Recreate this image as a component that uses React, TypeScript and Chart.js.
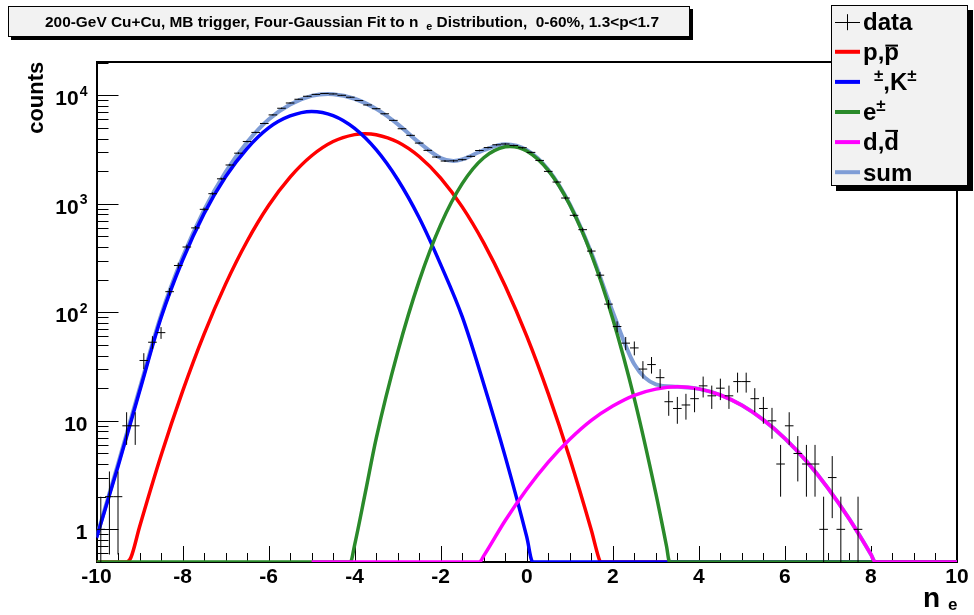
import React, { useEffect, useRef } from 'react';
import { Chart, registerables } from 'chart.js';

Chart.register(...registerables);

const FONT = "'Liberation Sans', Arial, Helvetica, sans-serif";

// ---------- fitted curves ----------
const protonX = [-10, -9.3, -9.2, -9, -8.5, -8, -7.5, -7, -6.5, -6, -5.5, -5, -4.5, -4, -3.76, -3.5, -3, -2.5, -2, -1.5, -1, -0.5, 0, 0.5, 1, 1.5, 1.7, 1.72, 10];
const protonY = [0.5, 0.5, 0.55, 1.05, 4.79, 18.7, 63.1, 182, 452, 964, 1762, 2773, 3750, 4345, 4426, 4335, 3715, 2729, 1726, 938, 437, 175, 60.3, 17.8, 4.52, 0.986, 0.51, 0.5, 0.5];

const pionX = [-10, -9.5, -9, -8.5, -8, -7.5, -7, -6.5, -6, -5.5, -5, -4.5, -4, -3.5, -3, -2.5, -2, -1.5, -1, -0.5, 0, 0.14, 10];
const pionY = [0.832, 3.8, 18.6, 89.1, 302, 813, 1778, 3236, 5012, 6457, 7112, 6501, 4955, 3155, 1675, 743, 275, 91.2, 21.9, 4.68, 0.851, 0.5, 0.5];

const electronX = [-10, -4.1, -4, -3.75, -3.5, -3, -2.5, -2, -1.5, -1, -0.5, -0.39, 0, 0.5, 1, 1.5, 2, 2.5, 3, 3.25, 3.32, 10];
const electronY = [0.5, 0.5, 0.72, 2.2, 6.87, 43.0, 195, 643, 1535, 2661, 3357, 3381, 3069, 2037, 980, 343, 86.9, 16.0, 2.14, 0.695, 0.5, 0.5];

const deuteronX = [-5, -1.1, -1, -0.5, 0, 0.5, 1, 1.5, 2, 2.5, 3, 3.5, 4, 4.5, 5, 5.5, 6, 6.5, 7, 7.5, 8, 8.1, 10];
const deuteronY = [0.5, 0.5, 0.569, 1.205, 2.34, 4.16, 6.76, 10.1, 13.7, 17.2, 19.6, 20.6, 19.7, 17.3, 13.9, 10.2, 6.88, 4.25, 2.4, 1.24, 0.587, 0.5, 0.5];

const sumX = [-10, -9.5, -9, -8.5, -8, -7.5, -7, -6.5, -6, -5.5, -5, -4.62, -4.5, -4, -3.5, -3, -2.5, -2, -1.7, -1.5, -1, -0.5, 0, 0.5, 1, 1.5, 2, 2.5, 3, 3.5, 4, 4.5, 5, 5.5, 6, 6.5, 7, 7.5, 8, 8.1, 10];
const sumY = [0.85, 4.0, 19.7, 93.9, 321, 876, 1960, 3688, 5976, 8219, 9885, 10280, 10251, 9301, 7497, 5433, 3667, 2644, 2483, 2564, 3120, 3538, 3133, 2059, 991, 354, 100.6, 33.2, 21.7, 20.6, 19.7, 17.3, 13.9, 10.2, 6.88, 4.25, 2.4, 1.24, 0.587, 0.5, 0.5];

// ---------- histogram (bin centres and counts) ----------
const binWidth = 0.2;
const dataX = [-9.9, -9.7, -9.5, -9.3, -9.1, -8.9, -8.7, -8.5, -8.3, -8.1, -7.9, -7.7, -7.5, -7.3, -7.1, -6.9, -6.7, -6.5, -6.3, -6.1, -5.9, -5.7, -5.5, -5.3, -5.1, -4.9, -4.7, -4.5, -4.3, -4.1, -3.9, -3.7, -3.5, -3.3, -3.1, -2.9, -2.7, -2.5, -2.3, -2.1, -1.9, -1.7, -1.5, -1.3, -1.1, -0.9, -0.7, -0.5, -0.3, -0.1, 0.1, 0.3, 0.5, 0.7, 0.9, 1.1, 1.3, 1.5, 1.7, 1.9, 2.1, 2.3, 2.5, 2.7, 2.9, 3.1, 3.3, 3.5, 3.7, 3.9, 4.1, 4.3, 4.5, 4.7, 4.9, 5.1, 5.3, 5.5, 5.7, 5.9, 6.1, 6.3, 6.5, 6.7, 6.9, 7.1, 7.3, 7.7];
const dataCounts = [1, 2, 2, 9, 9, 36, 53, 65, 155, 270, 400, 600, 890, 1240, 1700, 2280, 2930, 3750, 4550, 5500, 6600, 7600, 8500, 9200, 9800, 10200, 10400, 10300, 10000, 9600, 8950, 8150, 7530, 6760, 5875, 4920, 4275, 3630, 3110, 2700, 2480, 2490, 2553, 2737, 3100, 3300, 3500, 3560, 3450, 3290, 2980, 2512, 1990, 1588, 1131, 783, 578, 367, 220, 119, 74, 52, 47, 30, 33, 25, 15, 13, 14, 16, 21, 17, 20, 17, 23, 23, 16, 13, 10, 4, 9, 5, 4, 4, 1, 3, 1, 1];

// ---------- axes ----------
const xTickValues = [-10, -8, -6, -4, -2, 0, 2, 4, 6, 8, 10];
const yTickValues = [1, 10, 100, 1000, 10000];
const yTickBase = ['1', '10', '10', '10', '10'];
const yTickExp = ['', '', '2', '3', '4'];

const titleParts = ['200-GeV Cu+Cu, MB trigger, Four-Gaussian Fit to n', 'e', ' Distribution,  0-60%, 1.3<p<1.7'];

const COLORS = {
  proton: '#ff0000',
  pion: '#0000ff',
  electron: '#2a8a2a',
  deuteron: '#ff00ff',
  sum: '#7f9dd6',
};

const pts = (xs: number[], ys: number[]) => xs.map((x, i) => ({ x, y: ys[i] }));

function buildErrorBars() {
  const out: any[] = [];
  dataX.forEach((x, i) => {
    const n = dataCounts[i];
    const e = Math.sqrt(n);
    out.push({ x, y: Math.max(n - e, 0.05) }, { x, y: n + e }, { x, y: null });
    out.push({ x: x - binWidth / 2, y: n }, { x: x + binWidth / 2, y: n }, { x, y: null });
  });
  return out;
}

const framePlugin = {
  id: 'rootFrame',
  beforeDatasetsDraw(chart: any) {
    const { ctx, chartArea, scales } = chart;
    const { left, right, top, bottom } = chartArea;
    const xs = scales.x;
    const ys = scales.y;
    ctx.save();
    ctx.strokeStyle = '#000';
    ctx.lineWidth = 1;
    ctx.beginPath();
    for (let v = xs.min; v <= xs.max + 1e-9; v += 0.5) {
      const px = Math.round(xs.getPixelForValue(v)) + 0.5;
      const major = Math.abs(v / 2 - Math.round(v / 2)) < 1e-9;
      ctx.moveTo(px, bottom);
      ctx.lineTo(px, bottom - (major ? 16 : 9));
    }
    const d0 = Math.floor(Math.log10(ys.min));
    const d1 = Math.ceil(Math.log10(ys.max));
    for (let d = d0; d <= d1; d++) {
      for (let m = 1; m <= 9; m++) {
        const v = m * Math.pow(10, d);
        if (v < ys.min || v > ys.max) continue;
        const py = Math.round(ys.getPixelForValue(v)) + 0.5;
        ctx.moveTo(left, py);
        ctx.lineTo(left + (m === 1 ? 22 : 12), py);
      }
    }
    ctx.stroke();
    ctx.lineWidth = 2;
    ctx.strokeRect(Math.round(left), Math.round(top), Math.round(right) - Math.round(left), Math.round(bottom) - Math.round(top));
    ctx.restore();
  },
};

function drawSegments(ctx: any, segs: any[], x: number, baseline: number) {
  let cx = x;
  for (const s of segs) {
    if (s.gap) {
      cx += s.gap;
      continue;
    }
    const size = s.sup ? 17 : 24;
    ctx.font = `bold ${size}px ${FONT}`;
    const yb = baseline - (s.sup ? 9.5 : 0);
    ctx.fillText(s.t, cx, yb);
    const w = ctx.measureText(s.t).width;
    if (s.over) ctx.fillRect(cx + 1, baseline - s.over, w - 2, 2);
    cx += w;
  }
}

function drawBox(ctx: any, x: number, y: number, w: number, h: number, sh: number) {
  ctx.fillStyle = '#000';
  ctx.fillRect(x + sh, y + sh, w, h);
  ctx.fillStyle = '#f2f2f2';
  ctx.fillRect(x, y, w, h);
  ctx.strokeStyle = '#000';
  ctx.lineWidth = 1;
  ctx.strokeRect(x + 0.5, y + 0.5, w - 1, h - 1);
}

const decorPlugin = {
  id: 'rootDecor',
  afterDraw(chart: any) {
    const { ctx, chartArea, scales } = chart;
    const ys = scales.y;
    ctx.save();
    ctx.textAlign = 'left';
    ctx.textBaseline = 'alphabetic';

    // title box
    drawBox(ctx, 8, 6, 682, 31, 3);
    ctx.fillStyle = '#000';
    const tSize = 15.4;
    ctx.font = `bold ${tSize}px ${FONT}`;
    const w0 = ctx.measureText(titleParts[0]).width;
    const gap = 8;
    ctx.font = `bold ${tSize * 0.7}px ${FONT}`;
    const w1 = ctx.measureText(titleParts[1]).width;
    ctx.font = `bold ${tSize}px ${FONT}`;
    const w2 = ctx.measureText(titleParts[2]).width;
    const total = w0 + gap + w1 + w2;
    let tx = 352 - total / 2;
    const tb = 27;
    ctx.fillText(titleParts[0], tx, tb);
    tx += w0 + gap;
    ctx.font = `bold ${tSize * 0.7}px ${FONT}`;
    ctx.fillText(titleParts[1], tx, tb + 3);
    tx += w1;
    ctx.font = `bold ${tSize}px ${FONT}`;
    ctx.fillText(titleParts[2], tx, tb);

    // legend
    drawBox(ctx, 831, 5, 137, 181, 5);
    const rows = [
      { kind: 'data', segs: [{ t: 'data' }] },
      { kind: 'line', color: COLORS.proton, segs: [{ t: 'p,' }, { t: 'p', over: 15.5 }] },
      { kind: 'line', color: COLORS.pion, segs: [{ gap: 11 }, { t: '\u00b1', sup: true }, { t: ',K' }, { t: '\u00b1', sup: true }] },
      { kind: 'line', color: COLORS.electron, segs: [{ t: 'e' }, { t: '\u00b1', sup: true }] },
      { kind: 'line', color: COLORS.deuteron, segs: [{ t: 'd,' }, { t: 'd', over: 20.5 }] },
      { kind: 'line', color: COLORS.sum, segs: [{ t: 'sum' }] },
    ];
    rows.forEach((r: any, i: number) => {
      const cy = 21.7 + 30.1 * i;
      if (r.kind === 'data') {
        ctx.strokeStyle = '#000';
        ctx.lineWidth = 1;
        ctx.beginPath();
        ctx.moveTo(835, Math.round(cy) + 0.5);
        ctx.lineTo(860, Math.round(cy) + 0.5);
        ctx.moveTo(847.5, cy - 7.5);
        ctx.lineTo(847.5, cy + 8.5);
        ctx.stroke();
      } else {
        ctx.strokeStyle = r.color;
        ctx.lineWidth = 4;
        ctx.beginPath();
        ctx.moveTo(835, cy);
        ctx.lineTo(860, cy);
        ctx.stroke();
      }
      ctx.fillStyle = '#000';
      drawSegments(ctx, r.segs, 863, cy + 8.3);
    });

    // y tick labels (decades)
    ctx.fillStyle = '#000';
    yTickValues.forEach((v, i) => {
      const py = ys.getPixelForValue(v);
      const rightEdge = chartArea.left - 9;
      ctx.font = `bold 21px ${FONT}`;
      const wb = ctx.measureText(yTickBase[i]).width;
      ctx.font = `bold 14px ${FONT}`;
      const we = yTickExp[i] ? ctx.measureText(yTickExp[i]).width + 1 : 0;
      ctx.font = `bold 21px ${FONT}`;
      ctx.fillText(yTickBase[i], rightEdge - we - wb, py + 9.8);
      if (yTickExp[i]) {
        ctx.font = `bold 14px ${FONT}`;
        ctx.fillText(yTickExp[i], rightEdge - we + 1, py + 0.5);
      }
    });

    // y axis title
    ctx.save();
    ctx.translate(42.7, 61.7);
    ctx.rotate(-Math.PI / 2);
    ctx.textAlign = 'right';
    ctx.font = `bold 22px ${FONT}`;
    ctx.fillText('counts', 0, 0);
    ctx.restore();

    // x axis title
    ctx.textAlign = 'left';
    ctx.font = `bold 28px ${FONT}`;
    ctx.fillText('n', 923, 607);
    ctx.font = `bold 17px ${FONT}`;
    ctx.fillText('e', 948, 610);
    ctx.restore();
  },
};

export default function App() {
  const ref = useRef<HTMLCanvasElement | null>(null);
  useEffect(() => {
    document.body.style.margin = '0';
    const canvas = ref.current;
    if (!canvas) return;
    const lineDs = (label: string, xs: number[], ys: number[], color: string, order: number, width = 3.5) => ({
      label,
      data: pts(xs, ys),
      borderColor: color,
      backgroundColor: color,
      borderWidth: width,
      pointRadius: 0,
      fill: false,
      cubicInterpolationMode: 'monotone',
      order,
    });
    const chart = new Chart(canvas, {
      type: 'line',
      data: {
        datasets: [
          {
            label: 'data',
            data: buildErrorBars(),
            borderColor: '#000',
            borderWidth: 1,
            pointRadius: 0,
            spanGaps: false,
            fill: false,
            tension: 0,
            order: 0,
          } as any,
          lineDs('d,dbar', deuteronX, deuteronY, COLORS.deuteron, 1),
          lineDs('e', electronX, electronY, COLORS.electron, 2),
          lineDs('pi,K', pionX, pionY, COLORS.pion, 3),
          lineDs('p,pbar', protonX, protonY, COLORS.proton, 4),
          lineDs('sum', sumX, sumY, COLORS.sum, 5, 4),
        ],
      },
      options: {
        animation: false,
        responsive: false,
        maintainAspectRatio: false,
        events: [],
        layout: { padding: { top: 61.5, right: 17, left: 0, bottom: 0 } },
        plugins: {
          legend: { display: false },
          title: { display: false },
          tooltip: { enabled: false },
        },
        scales: {
          x: {
            type: 'linear',
            min: -10,
            max: 10,
            grid: { display: false, drawTicks: false },
            border: { display: false },
            ticks: {
              color: '#000',
              font: { family: FONT, size: 21, weight: 'bold' },
              padding: 3,
              maxRotation: 0,
              autoSkip: false,
              callback: (v: any) => String(v),
            },
            afterBuildTicks: (s: any) => {
              s.ticks = xTickValues.map((v) => ({ value: v }));
            },
            afterFit: (s: any) => {
              s.height = 53;
            },
          },
          y: {
            type: 'logarithmic',
            min: 0.5,
            max: 20500,
            grid: { display: false, drawTicks: false },
            border: { display: false },
            ticks: { display: false },
            afterFit: (s: any) => {
              s.width = 96.5;
            },
          },
        },
      } as any,
      plugins: [framePlugin, decorPlugin],
    });
    return () => chart.destroy();
  }, []);
  return (
    <div style={{ width: 974, height: 615, background: '#fff' }}>
      <canvas ref={ref} width={974} height={615} style={{ display: 'block' }} />
    </div>
  );
}
